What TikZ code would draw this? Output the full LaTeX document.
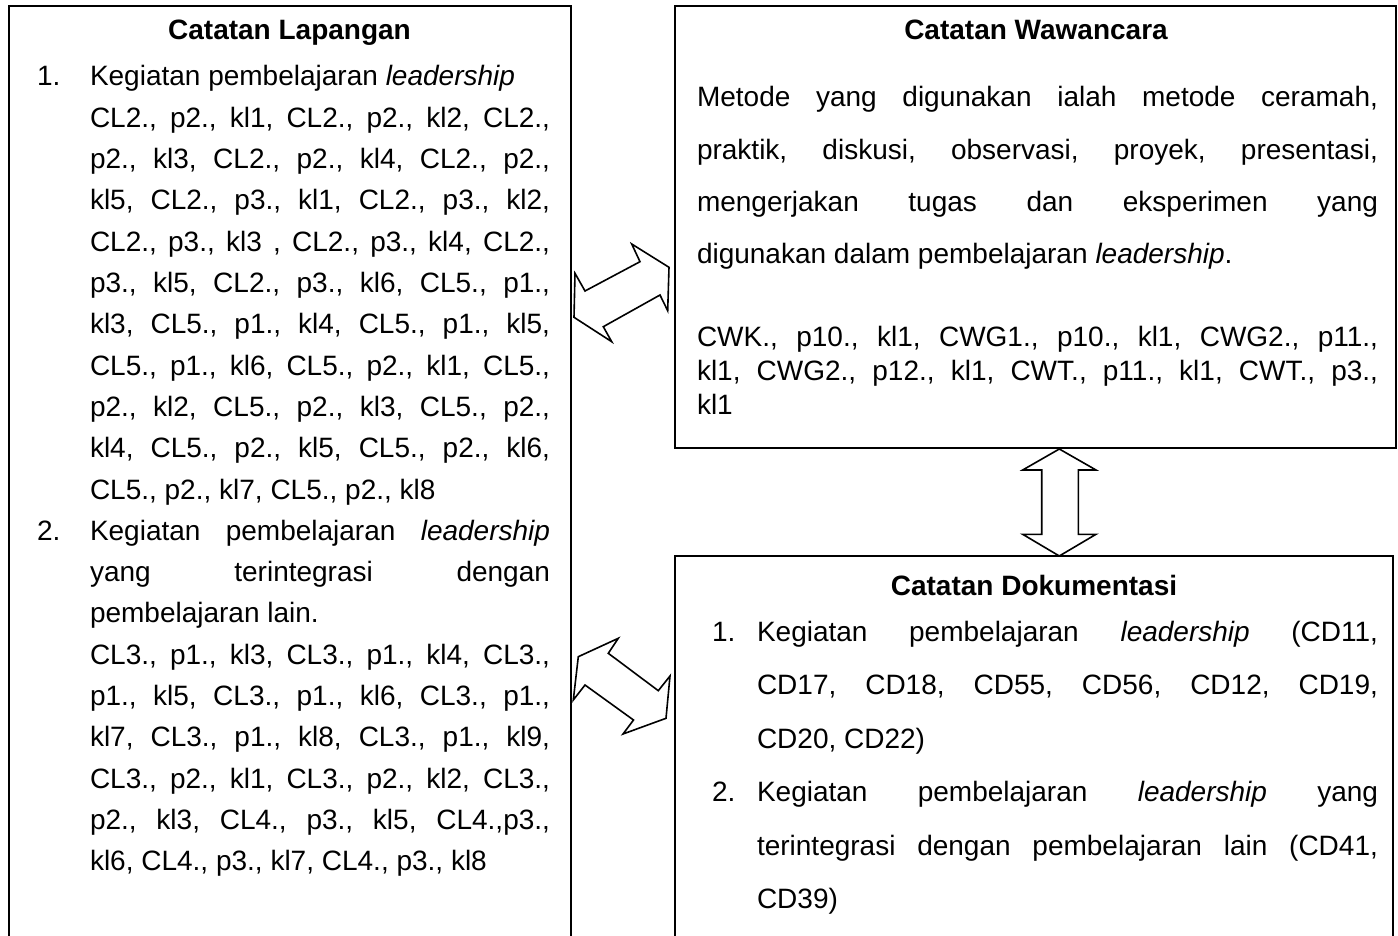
\documentclass[tikz,border=0pt]{standalone}
\usepackage{fontspec}
\setmainfont{Liberation Sans}
\newcommand\jl[2]{\hbox to #1{\frenchspacing\spaceskip=\fontdimen2\font plus 1fil\relax #2}}
\begin{document}
\begin{tikzpicture}[x=1pt,y=-1pt,
  every node/.style={inner sep=0pt,outer sep=0pt,font=\fontsize{28}{33}\selectfont},
  tx/.style={anchor=base west},
  ttl/.style={anchor=base,font=\fontsize{28}{33}\selectfont\bfseries},
  box/.style={draw,line width=2pt,rectangle,anchor=north west},
  arr/.style={draw,line width=1.6pt,fill=white,line join=miter}]
\useasboundingbox (0,0) rectangle (1398,936);
\clip (0,0) rectangle (1398,936);
% boxes
\node[box,minimum width=562pt,minimum height=1000pt] (cl) at (8.5,6) {};
\node[box,minimum width=721pt,minimum height=442pt] (cw) at (675,6) {};
\node[box,minimum width=718pt,minimum height=500pt] (cd) at (675,556) {};
% arrows
\draw[arr] (631.7,244) -- (640,261.7) -- (585,291) -- (575,273.3) -- (574,317.3) -- (611.7,341.7) -- (603.3,326.7) -- (660,295) -- (667.7,310.7) -- (669,267.3) -- cycle;
\draw[arr] (618.3,638.3) -- (608.3,653.3) -- (658.3,690.7) -- (670,676) -- (666,718.3) -- (623,734) -- (633.5,720) -- (585,685) -- (573.3,700) -- (578.3,656.7) -- cycle;
\draw[arr] (1059.3,449) -- (1096,470) -- (1078.3,470) -- (1078.3,534.3) -- (1096,534.3) -- (1059.3,556) -- (1022.7,534.3) -- (1041.7,534.3) -- (1041.7,470) -- (1022.7,470) -- cycle;
% left box text
\node[ttl] (t1) at (289.5,40) {Catatan Lapangan};
\node[tx] (n1) at (37,86) {1.};
\node[tx] (a0) at (90,86) {Kegiatan pembelajaran \textit{leadership}};
\node[tx] (a1) at (90,127.3) {\jl{460pt}{CL2., p2., kl1, CL2., p2., kl2, CL2.,}};
\node[tx] (a2) at (90,168.6) {\jl{460pt}{p2., kl3, CL2., p2., kl4, CL2., p2.,}};
\node[tx] (a3) at (90,209.9) {\jl{460pt}{kl5, CL2., p3., kl1, CL2., p3., kl2,}};
\node[tx] (a4) at (90,251.2) {\jl{460pt}{CL2., p3., kl3 , CL2., p3., kl4, CL2.,}};
\node[tx] (a5) at (90,292.5) {\jl{460pt}{p3., kl5, CL2., p3., kl6, CL5., p1.,}};
\node[tx] (a6) at (90,333.8) {\jl{460pt}{kl3, CL5., p1., kl4, CL5., p1., kl5,}};
\node[tx] (a7) at (90,375.1) {\jl{460pt}{CL5., p1., kl6, CL5., p2., kl1, CL5.,}};
\node[tx] (a8) at (90,416.4) {\jl{460pt}{p2., kl2, CL5., p2., kl3, CL5., p2.,}};
\node[tx] (a9) at (90,457.7) {\jl{460pt}{kl4, CL5., p2., kl5, CL5., p2., kl6,}};
\node[tx] (a10) at (90,499) {CL5., p2., kl7, CL5., p2., kl8};
\node[tx] (n2) at (37,540.3) {2.};
\node[tx] (b0) at (90,540.3) {\jl{460pt}{Kegiatan pembelajaran \textit{leadership}}};
\node[tx] (b1) at (90,581.6) {\jl{460pt}{yang terintegrasi dengan}};
\node[tx] (b2) at (90,622.9) {pembelajaran lain.};
\node[tx] (b3) at (90,664.2) {\jl{460pt}{CL3., p1., kl3, CL3., p1., kl4, CL3.,}};
\node[tx] (b4) at (90,705.5) {\jl{460pt}{p1., kl5, CL3., p1., kl6, CL3., p1.,}};
\node[tx] (b5) at (90,746.8) {\jl{460pt}{kl7, CL3., p1., kl8, CL3., p1., kl9,}};
\node[tx] (b6) at (90,788.1) {\jl{460pt}{CL3., p2., kl1, CL3., p2., kl2, CL3.,}};
\node[tx] (b7) at (90,829.4) {\jl{460pt}{p2., kl3, CL4., p3., kl5, CL4.,p3.,}};
\node[tx] (b8) at (90,870.7) {kl6, CL4., p3., kl7, CL4., p3., kl8};
% top right box text
\node[ttl] (t2) at (1036,40) {Catatan Wawancara};
\node[tx] (w1) at (697,107) {\jl{681pt}{Metode yang digunakan ialah metode ceramah,}};
\node[tx] (w2) at (697,160) {\jl{681pt}{praktik, diskusi, observasi, proyek, presentasi,}};
\node[tx] (w3) at (697,212) {\jl{681pt}{mengerjakan tugas dan eksperimen yang}};
\node[tx] (w4) at (697,264) {digunakan dalam pembelajaran \textit{leadership}.};
\node[tx] (w5) at (697,346) {\jl{681pt}{CWK., p10., kl1, CWG1., p10., kl1, CWG2., p11.,}};
\node[tx] (w6) at (697,380) {\jl{681pt}{kl1, CWG2., p12., kl1, CWT., p11., kl1, CWT., p3.,}};
\node[tx] (w7) at (697,414) {kl1};
% bottom right box text
\node[ttl] (t3) at (1034,595) {Catatan Dokumentasi};
\node[tx] (m1) at (712,641) {1.};
\node[tx] (d1) at (757,641) {\jl{621pt}{Kegiatan pembelajaran \textit{leadership} (CD11,}};
\node[tx] (d2) at (757,694) {\jl{621pt}{CD17, CD18, CD55, CD56, CD12, CD19,}};
\node[tx] (d3) at (757,748) {CD20, CD22)};
\node[tx] (m2) at (712,801) {2.};
\node[tx] (d4) at (757,801) {\jl{621pt}{Kegiatan pembelajaran \textit{leadership} yang}};
\node[tx] (d5) at (757,855) {\jl{621pt}{terintegrasi dengan pembelajaran lain (CD41,}};
\node[tx] (d6) at (757,908) {CD39)};
\end{tikzpicture}
\end{document}
